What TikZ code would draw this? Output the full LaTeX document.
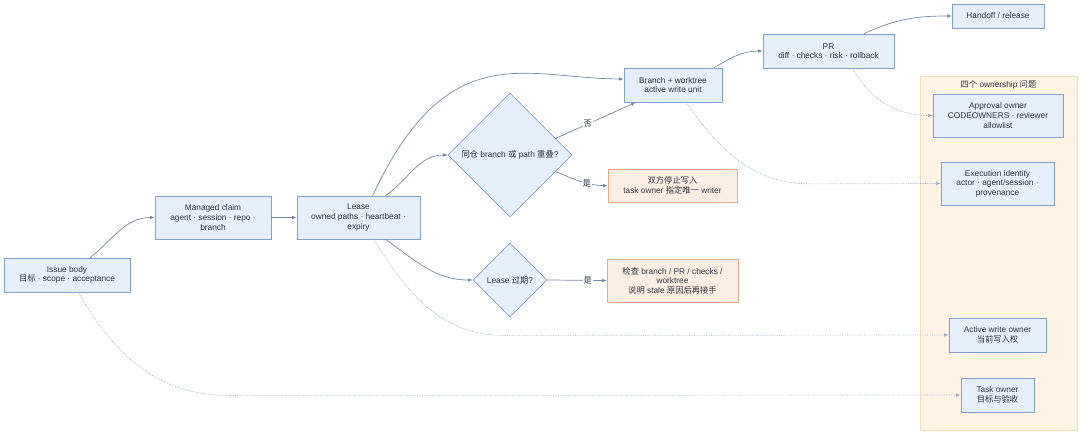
\documentclass[tikz,border=0pt]{standalone}
\usepackage{fontspec}
\setmainfont{Liberation Sans}
\newfontfamily\cjk{Noto Sans CJK SC}
\usetikzlibrary{shapes.geometric,arrows.meta}
\definecolor{boxfill}{HTML}{E6EFFC}
\definecolor{boxline}{HTML}{819FCC}
\definecolor{warnfill}{HTML}{FDEEE4}
\definecolor{warnline}{HTML}{E5A888}
\definecolor{panelfill}{HTML}{FFF4E3}
\definecolor{panelline}{HTML}{F4DDB6}
\definecolor{flowline}{HTML}{7387A3}
\definecolor{traceline}{HTML}{9FACBE}
\definecolor{ink}{HTML}{2E3440}
\tikzset{
	box/.style={draw=boxline, fill=boxfill, line width=0.8pt, align=center, inner sep=1pt, text=ink},
	warnbox/.style={box, draw=warnline, fill=warnfill},
	ask/.style={box, diamond, aspect=1, inner sep=0pt},
	flow/.style={draw=flowline, line width=0.7pt, -{Latex[length=4.5pt,width=3.6pt]}},
	trace/.style={flow, draw=traceline, densely dotted},
	tag/.style={fill=white, inner sep=1pt, text=ink}
}
\begin{document}
\begin{tikzpicture}[x=1pt, y=1pt, every node/.style={font=\fontsize{8.3}{9.6}\selectfont}]
\useasboundingbox (0,0) rectangle (1080,-434);
%ownership panel
\fill[panelfill, draw=panelline, line width=0.6pt] (920,-76) rectangle (1077,-430);
\node[anchor=north, text=ink] (paneltitle) at (998.5,-76.5) {{\cjk 四个} ownership {\cjk 问题}};
%flow boxes
\node[box, minimum width=126, minimum height=34] (issue) at (67,-275) {Issue body\\{\cjk 目标} · scope · acceptance};
\node[box, minimum width=116, minimum height=43] (claim) at (213,-217.5) {Managed claim\\agent · session · repo ·\\branch};
\node[box, minimum width=123, minimum height=43] (lease) at (358.5,-217.5) {Lease\\owned paths · heartbeat ·\\expiry};
\node[ask, minimum width=124, minimum height=124] (overlap) at (510,-155) {{\cjk 同仓} branch {\cjk 或} path {\cjk 重叠}?};
\node[ask, minimum width=74, minimum height=74] (expired) at (510,-280) {Lease {\cjk 过期}?};
\node[box, minimum width=98, minimum height=34] (branch) at (673,-85) {Branch + worktree\\active write unit};
\node[warnbox, minimum width=129, minimum height=33] (stop) at (672.5,-185.5) {{\cjk 双方停止写入}\\task owner {\cjk 指定唯一} writer};
\node[warnbox, minimum width=131, minimum height=43] (check) at (672.5,-280.5) {{\cjk 检查} branch / PR / checks /\\worktree\\{\cjk 说明} stale {\cjk 原因后再接手}};
\node[box, minimum width=131, minimum height=34] (pr) at (828.5,-51) {PR\\diff · checks · risk · rollback};
\node[box, minimum width=92, minimum height=24] (handoff) at (998,-16) {Handoff / release};
%owners
\node[box, minimum width=130, minimum height=43] (approval) at (998,-115.5) {Approval owner\\CODEOWNERS · reviewer\\allowlist};
\node[box, minimum width=113, minimum height=43] (execid) at (997.5,-183.5) {Execution identity\\actor · agent/session ·\\provenance};
\node[box, minimum width=97, minimum height=34] (activew) at (997.5,-335) {Active write owner\\{\cjk 当前写入权}};
\node[box, minimum width=73, minimum height=34] (taskown) at (997.5,-395) {Task owner\\{\cjk 目标与验收}};
%main connectors
\draw[flow] (issue.37) to[out=38, in=180] (claim.west);
\draw[flow] (claim.east) -- (lease.west);
\draw[flow] (lease.57) to[out=65, in=180, out looseness=1.65, in looseness=0.9] (branch.173);
\draw[flow] (lease.39) to[out=35, in=180] (overlap.west);
\draw[flow] (lease.-39) to[out=-35, in=180] (expired.west);
\draw[flow] (overlap.20) -- node[tag, pos=0.4] {\cjk 否} (branch.-155);
\draw[flow] (overlap.-20) to[out=-22, in=180] node[tag, pos=0.62] {\cjk 是} (stop.west);
\draw[flow] (expired.east) -- node[tag, pos=0.68] {\cjk 是} (check.west);
\draw[flow] (branch.23) to[out=30, in=180] (pr.west);
\draw[flow] (pr.26) to[out=25, in=180] (handoff.west);
%ownership traces
\draw[trace] (pr.-36) to[out=-60, in=180] (approval.west);
\draw[trace] (branch.-53) to[out=-55, in=180] ++(125,-81.5) -- (execid.west);
\draw[trace] (lease.-55) to[out=-58, in=180] ++(130,-96) -- (activew.west);
\draw[trace] (issue.-57) to[out=-60, in=180] ++(150,-103) -- (taskown.west);
\end{tikzpicture}
\end{document}
